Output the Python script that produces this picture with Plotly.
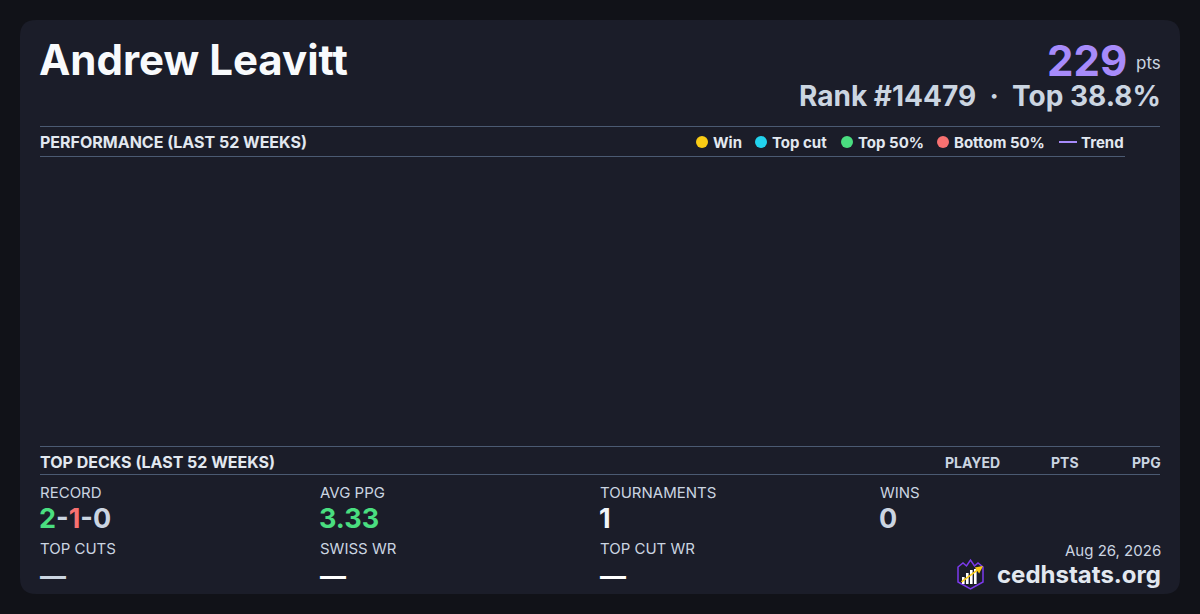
import plotly.graph_objects as go

## Player header data
player_name = "Andrew Leavitt"
points = 229
rank = 14479
top_pct = 38.8
report_date = "Aug 26, 2026"

## Performance chart (last 52 weeks) - no events plotted
perf_categories = ["Win", "Top cut", "Top 50%", "Bottom 50%"]
perf_colors = ["#facc15", "#22d3ee", "#4ade80", "#f87171"]
perf_weeks = [[], [], [], []]
perf_points = [[], [], [], []]
trend_weeks = []
trend_points = []
trend_color = "#a78bfa"

## Top decks table columns
deck_columns = ["PLAYED", "PTS", "PPG"]

## Summary stats
record_wins, record_losses, record_draws = 2, 1, 0
avg_ppg = 3.33
tournaments = 1
wins = 0
stat_labels_row1 = ["RECORD", "AVG PPG", "TOURNAMENTS", "WINS"]
stat_labels_row2 = ["TOP CUTS", "SWISS WR", "TOP CUT WR"]
stat_values_row2 = ["—", "—", "—"]

W, H = 1200, 614
PAGE = "#111218"
CARD = "#1b1d29"
RULE = "#4b5a72"
FONT = "Inter"

fig = go.Figure()

# empty performance traces on their own axes
for name, col, xs, ys in zip(perf_categories, perf_colors, perf_weeks, perf_points):
    fig.add_trace(go.Scatter(x=xs, y=ys, mode="markers", name=name,
                             marker=dict(color=col, size=10),
                             xaxis="x2", yaxis="y2", showlegend=False))
fig.add_trace(go.Scatter(x=trend_weeks, y=trend_points, mode="lines", name="Trend",
                         line=dict(color=trend_color, width=2),
                         xaxis="x2", yaxis="y2", showlegend=False))


def ann(x, y, text, size, color, xanchor="left", weight="normal", height=None):
    fig.add_annotation(x=x, y=y, xref="x", yref="y", text=text, showarrow=False,
                       xanchor=xanchor, yanchor="middle", height=height,
                       font=dict(family=FONT, size=size, color=color, weight=weight))


def hline(y, x0, x1):
    fig.add_shape(type="line", xref="x", yref="y", x0=x0, x1=x1, y0=y, y1=y,
                  line=dict(color=RULE, width=1))


# card
r = 16
fig.add_shape(type="path", xref="x", yref="y", line=dict(width=0), fillcolor=CARD, layer="below",
              path=(f"M {20+r},20 L {1180-r},20 Q 1180,20 1180,{20+r} L 1180,{594-r} "
                    f"Q 1180,594 {1180-r},594 L {20+r},594 Q 20,594 20,{594-r} "
                    f"L 20,{20+r} Q 20,20 {20+r},20 Z"))

# header
ann(37, 59, player_name, 42, "#f8fafc", weight="bold")
ann(1129, 60, str(points), 42, "#a78bfa", xanchor="right", weight="bold", height=36)
ann(1163, 63, "pts", 17, "#cbd5e1", xanchor="right")
ann(1163, 96, f"Rank #{rank}  ·  Top {top_pct}%", 28, "#cbd5e1", xanchor="right",
    weight="bold", height=32)

# performance section
hline(126.5, 40, 1160)
ann(38, 142, "PERFORMANCE (LAST 52 WEEKS)", 16, "#e2e8f0", weight="bold")
hline(156.5, 40, 1125)
leg_x = [702, 761, 847, 943]
for lx, name, col in zip(leg_x, perf_categories, perf_colors):
    fig.add_shape(type="circle", xref="x", yref="y", x0=lx - 6, x1=lx + 6, y0=136, y1=148,
                  fillcolor=col, line=dict(width=0))
    ann(lx + 9, 142, name, 15, "#e2e8f0", weight="bold")
fig.add_shape(type="line", xref="x", yref="y", x0=1059, x1=1077, y0=142, y1=142,
              line=dict(color=trend_color, width=2))
ann(1079, 142, "Trend", 15, "#e2e8f0", weight="bold")

# top decks section
hline(446.5, 40, 1160)
ann(38, 462, "TOP DECKS (LAST 52 WEEKS)", 16, "#e2e8f0", weight="bold")
for cx, name in zip([1002, 1081, 1163], deck_columns):
    ann(cx, 462, name, 14, "#cbd5e1", xanchor="right", weight="bold")
hline(474.5, 40, 1160)

# stats grid
col_x = [38, 318, 598, 878]
for cx, lab in zip(col_x, stat_labels_row1):
    ann(cx, 492, lab, 15, "#cbd5e1")
record_txt = (f"<span style='color:#4ade80'>{record_wins}</span>-"
              f"<span style='color:#f87171'>{record_losses}</span>-{record_draws}")
ann(37, 518, record_txt, 27, "#cbd5e1", weight="bold")
ann(317, 518, f"{avg_ppg:.2f}", 27, "#4ade80", weight="bold")
ann(597, 518, str(tournaments), 27, "#f1f5f9", weight="bold")
ann(877, 518, str(wins), 27, "#cbd5e1", weight="bold")
for cx, lab in zip(col_x, stat_labels_row2):
    ann(cx, 548, lab, 15, "#cbd5e1")
for cx, val, col in zip(col_x, stat_values_row2, ["#cbd5e1", "#ffffff", "#ffffff"]):
    ann(cx, 575, val, 26, col, weight="bold")

# footer
ann(1163, 550, report_date, 15, "#cbd5e1", xanchor="right")
ann(1163, 574, "cedhstats.org", 24, "#e2e8f0", xanchor="right", weight="bold")

# logo: crowned shield with bars and a rising arrow
fig.add_shape(type="path", xref="x", yref="y", line=dict(color="#7c3aed", width=1.5),
              path="M 958,567 L 963,563 L 966.5,566 L 970.5,560 L 974.5,566 L 978,563 "
                   "L 983,567 L 983,582 L 970.5,589 L 958,582 Z")
for bx, btop in zip([962, 966, 970, 974], [577, 573, 570, 569]):
    fig.add_shape(type="rect", xref="x", yref="y", x0=bx, x1=bx + 2.6, y0=btop, y1=584,
                  fillcolor="#ffffff", line=dict(width=0))
fig.add_annotation(x=983, y=566, ax=960, ay=583, xref="x", yref="y", axref="x", ayref="y",
                   text="", showarrow=True, arrowhead=2, arrowsize=1, arrowwidth=1.5,
                   arrowcolor="#facc15")

fig.update_layout(
    width=W, height=H,
    margin=dict(l=0, r=0, t=0, b=0),
    paper_bgcolor=PAGE, plot_bgcolor="rgba(0,0,0,0)",
    showlegend=False,
    xaxis=dict(range=[0, W], domain=[0, 1], visible=False, fixedrange=True),
    yaxis=dict(range=[H, 0], domain=[0, 1], visible=False, fixedrange=True),
    xaxis2=dict(domain=[40 / W, 1125 / W], visible=False, anchor="y2"),
    yaxis2=dict(domain=[1 - 446 / H, 1 - 157 / H], visible=False, anchor="x2"),
)

# drop the default page margin so the card sits flush in the window
fig.write_html("out.html", config={"displayModeBar": False},
               post_script="document.body.style.margin='0';"
                           "document.body.style.background='" + PAGE + "';")
